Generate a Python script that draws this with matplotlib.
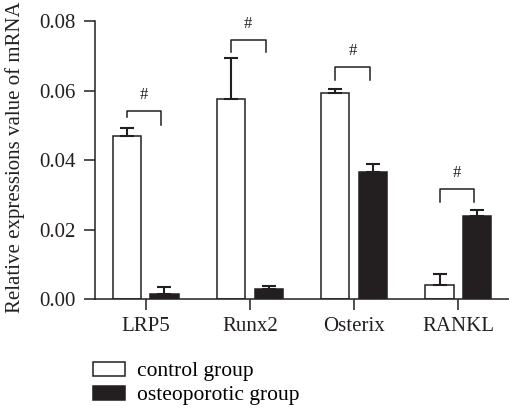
import matplotlib
matplotlib.use('Agg')
import matplotlib.pyplot as plt
import numpy as np

genes = ['LRP5', 'Runx2', 'Osterix', 'RANKL']
control = [0.0468, 0.0576, 0.0594, 0.0041]
control_err = [0.0024, 0.0118, 0.0011, 0.0032]
osteo = [0.0016, 0.0028, 0.0367, 0.0238]
osteo_err = [0.0018, 0.0010, 0.0022, 0.0019]
# significance brackets: top of bracket, bottom of left / right legs
bracket_top = [0.0541, 0.0746, 0.0668, 0.0317]
bracket_left = [0.0523, 0.0710, 0.0630, 0.0280]
bracket_right = [0.0500, 0.0710, 0.0630, 0.0280]
legend_labels = ['control group', 'osteoporotic group']

ink = '#231f20'
plt.rcParams['font.family'] = ['Liberation Serif', 'DejaVu Serif']
plt.rcParams['font.size'] = 15

fig = plt.figure(figsize=(5.09, 4.08), dpi=100)
ax = fig.add_axes([0.1866, 0.267, 0.8134, 0.6815])

x = np.arange(len(genes))
off = 0.18
w = 0.27
ax.bar(x - off, control, w, color='white', edgecolor=ink, linewidth=1.1,
       label=legend_labels[0], zorder=2)
ax.bar(x + off, osteo, w, color=ink, edgecolor=ink, linewidth=1.1,
       label=legend_labels[1], zorder=2)
ax.errorbar(x - off, control, yerr=[np.zeros(4), control_err], fmt='none',
            ecolor=ink, elinewidth=1.5, capsize=5, capthick=1.5, zorder=3)
ax.errorbar(x + off, osteo, yerr=[np.zeros(4), osteo_err], fmt='none',
            ecolor=ink, elinewidth=1.5, capsize=5, capthick=1.5, zorder=3)

for i in range(len(genes)):
    xl, xr = x[i] - off, x[i] + off - 0.03
    ax.plot([xl, xl, xr, xr], [bracket_left[i], bracket_top[i], bracket_top[i], bracket_right[i]],
            color=ink, lw=1.1, clip_on=False)
    ax.text((xl + xr) / 2, bracket_top[i] + 0.0045, '#', ha='center', va='center',
            fontsize=12, color=ink)

ax.set_xlim(-0.487, 3.487)
ax.set_ylim(0, 0.08)
ax.set_yticks([0, 0.02, 0.04, 0.06, 0.08])
ax.set_yticklabels(['0.00', '0.02', '0.04', '0.06', '0.08'])
ax.set_xticks(x)
ax.set_xticklabels(genes)
ax.spines['top'].set_visible(False)
ax.spines['right'].set_visible(False)
for s in ['left', 'bottom']:
    ax.spines[s].set_color(ink)
    ax.spines[s].set_linewidth(1.1)
ax.tick_params(axis='both', colors=ink, width=1.1, length=8, labelcolor=ink)
ax.tick_params(axis='x', pad=5)
ax.tick_params(axis='y', pad=6)
ax.set_ylabel('Relative expressions value of mRNA', color=ink)
ax.yaxis.set_label_coords(-0.168, 0.51)

ax.legend(loc='upper left', bbox_to_anchor=(0.183, 0.113), bbox_transform=fig.transFigure,
          frameon=False, handlelength=1.5, handleheight=0.6, handletextpad=0.55,
          labelspacing=0.22, borderaxespad=0, borderpad=0, fontsize=15.5)

fig.savefig('out.png', dpi=100)
